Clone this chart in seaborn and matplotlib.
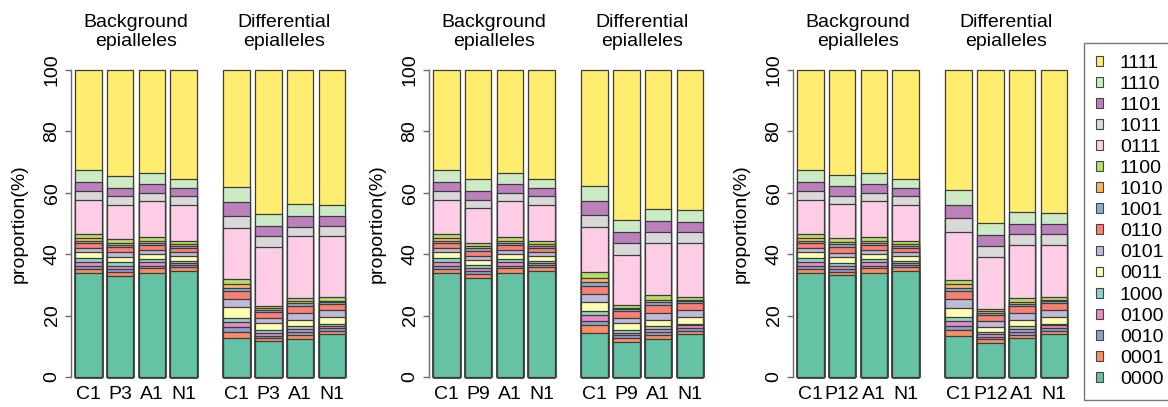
import numpy as np
import pandas as pd
import matplotlib
matplotlib.use('Agg')
import matplotlib.pyplot as plt
import seaborn as sns
from matplotlib.patches import Patch

# epiallele states, bottom of the stack first
epialleles = ['0000', '0001', '0010', '0100', '1000', '0011', '0101', '0110',
              '1001', '1010', '1100', '0111', '1011', '1101', '1110', '1111']
treatments = ['P3', 'P9', 'P12']
group_titles = ['Background\nepialleles', 'Differential\nepialleles']

# background epialleles (%), C1 / A1 / N1 are the same in every panel
bg_C1 = [33.8, 1.5, 1.0, 1.3, 1.2, 2.0, 1.3, 1.7, 0.6, 0.9, 1.3, 11.1, 2.8, 2.9, 4.1, 32.5]
bg_A1 = [34.0, 1.4, 0.8, 1.2, 0.9, 1.9, 1.3, 1.6, 0.6, 0.6, 1.2, 11.8, 2.6, 3.0, 3.7, 33.4]
bg_N1 = [34.6, 1.1, 0.7, 0.8, 0.7, 1.4, 1.4, 1.4, 0.7, 0.6, 0.9, 11.7, 2.8, 2.8, 2.9, 35.5]
bg_P3 = [32.9, 1.4, 0.9, 1.0, 1.4, 1.6, 1.4, 1.6, 0.8, 0.8, 1.0, 11.2, 2.8, 2.9, 3.7, 34.6]
bg_P9 = [32.2, 1.4, 0.8, 1.0, 1.1, 1.6, 1.4, 1.6, 0.8, 0.8, 0.9, 11.4, 2.7, 3.0, 3.7, 35.6]
bg_P12 = [33.2, 1.1, 0.9, 1.0, 1.0, 1.9, 1.4, 1.9, 0.8, 0.8, 1.2, 11.1, 2.7, 3.2, 3.6, 34.2]

# differential epialleles (%), one set per treatment panel
dP3_C1 = [12.6, 1.9, 1.7, 1.6, 1.3, 3.6, 2.6, 2.8, 0.9, 1.2, 1.6, 16.7, 4.1, 4.3, 4.9, 38.2]
dP3_P3 = [11.7, 1.0, 0.8, 0.9, 0.9, 2.2, 1.8, 2.0, 0.6, 0.6, 0.7, 19.0, 3.6, 3.5, 3.8, 46.9]
dP3_A1 = [12.3, 1.4, 0.8, 1.2, 0.8, 2.2, 2.0, 2.5, 0.8, 0.7, 1.0, 20.1, 3.2, 3.5, 3.8, 43.7]
dP3_N1 = [13.9, 1.1, 0.8, 0.9, 0.6, 2.3, 2.1, 2.2, 0.5, 0.5, 1.1, 19.8, 3.5, 3.2, 3.5, 44.0]

dP9_C1 = [14.4, 2.4, 1.3, 2.0, 1.4, 2.9, 2.7, 2.7, 1.3, 1.1, 2.0, 14.6, 4.0, 4.5, 4.8, 37.9]
dP9_P9 = [11.4, 1.3, 0.9, 0.8, 1.0, 2.2, 1.7, 2.1, 0.6, 0.6, 0.7, 16.6, 3.7, 3.6, 3.8, 49.0]
dP9_A1 = [12.5, 1.3, 0.8, 1.1, 0.8, 2.2, 2.0, 2.8, 0.8, 0.7, 1.6, 17.0, 3.6, 3.6, 3.8, 45.4]
dP9_N1 = [14.0, 1.1, 0.8, 0.9, 0.6, 2.3, 2.1, 2.3, 0.5, 0.5, 1.1, 17.6, 3.5, 3.3, 3.7, 45.7]

dP12_C1 = [13.3, 1.9, 1.3, 1.8, 1.3, 3.0, 2.7, 2.7, 0.9, 1.3, 1.4, 15.7, 4.4, 4.3, 4.9, 39.1]
dP12_P12 = [11.2, 1.1, 0.8, 0.9, 0.7, 1.7, 1.9, 1.8, 0.7, 0.6, 0.7, 17.1, 3.5, 3.5, 3.9, 49.9]
dP12_A1 = [12.6, 1.1, 0.8, 1.0, 1.0, 2.2, 2.0, 2.3, 0.8, 0.7, 1.2, 17.2, 3.6, 3.5, 3.9, 46.1]
dP12_N1 = [14.0, 1.1, 0.8, 0.9, 0.6, 2.3, 2.1, 2.3, 0.5, 0.5, 1.1, 16.8, 3.5, 3.4, 3.6, 46.5]

panels = [
    (['C1', 'P3', 'A1', 'N1'] * 2, [bg_C1, bg_P3, bg_A1, bg_N1, dP3_C1, dP3_P3, dP3_A1, dP3_N1]),
    (['C1', 'P9', 'A1', 'N1'] * 2, [bg_C1, bg_P9, bg_A1, bg_N1, dP9_C1, dP9_P9, dP9_A1, dP9_N1]),
    (['C1', 'P12', 'A1', 'N1'] * 2, [bg_C1, bg_P12, bg_A1, bg_N1, dP12_C1, dP12_P12, dP12_A1, dP12_N1]),
]

palette = sns.color_palette('Set2')[:4] + sns.color_palette('Set3')

sns.set_style('white')
plt.rcParams['font.family'] = ['Liberation Sans', 'DejaVu Sans']
plt.rcParams['text.color'] = 'black'
plt.rcParams['axes.labelcolor'] = 'black'

FS = 14
GAP = 4.68
positions = [0, 1, 2, 3, GAP, GAP + 1, GAP + 2, GAP + 3]


def draw_panel(ax, labels, bars):
    cum = np.cumsum(np.array(bars), axis=1)
    df = pd.DataFrame(cum, columns=epialleles)
    df['pos'] = positions
    # draw cumulative heights from the top state down -> stacked look
    for i in range(len(epialleles) - 1, -1, -1):
        sns.barplot(data=df, x='pos', y=epialleles[i], native_scale=True,
                    color=palette[i], saturation=1, width=0.84,
                    edgecolor='#3c3c3c', linewidth=0.9, ax=ax)
    for p in ax.patches:
        p.set_clip_on(False)

    ax.set_xlim(-0.55, 8.3)
    ax.set_ylim(0, 100)
    ax.set_xticks(positions)
    ax.set_xticklabels(labels, fontsize=FS)
    ax.set_yticks([0, 20, 40, 60, 80, 100])
    ax.set_yticklabels(['0', '20', '40', '60', '80', '100'], fontsize=FS,
                       rotation=90, va='center')
    ax.tick_params(axis='x', length=0, pad=6.5, labelcolor='black')
    ax.tick_params(axis='y', length=4.3, width=1, color='#6a6a6a', pad=3.2,
                   left=True, labelcolor='black')
    for s in ['top', 'right', 'bottom']:
        ax.spines[s].set_visible(False)
    ax.spines['left'].set_bounds(0, 100)
    ax.spines['left'].set_color('#6a6a6a')
    ax.spines['left'].set_linewidth(1)
    ax.set_xlabel('')
    ax.set_ylabel('proportion(%)', fontsize=FS)
    ax.yaxis.set_label_coords(-0.155, 0.5)

    trans = ax.get_xaxis_transform()
    for g, title in enumerate(group_titles):
        ax.text(1.5 + g * GAP, 1.183, title, transform=trans, ha='center',
                va='top', fontsize=FS)


fig = plt.figure(figsize=(11.68, 4.07), dpi=100)
lefts = [71, 429, 793]
for left, (labels, bars) in zip(lefts, panels):
    ax = fig.add_axes([left / 1168, 1 - 377 / 407, 280.5 / 1168, 307 / 407])
    draw_panel(ax, labels, bars)

handles = [Patch(facecolor=palette[i], edgecolor='#444444', linewidth=0.8, label=epialleles[i])
           for i in range(len(epialleles) - 1, -1, -1)]
leg = fig.legend(handles=handles, loc='upper left', bbox_to_anchor=(1084 / 1168, 1 - 43 / 407),
                 borderaxespad=0, fontsize=FS, frameon=True, fancybox=False,
                 handlelength=0.4, handleheight=0.4, handletextpad=0.85,
                 labelspacing=0.21, borderpad=0.6)
leg.get_frame().set_edgecolor('#555555')
leg.get_frame().set_linewidth(1)

fig.savefig('out.png', dpi=100)
